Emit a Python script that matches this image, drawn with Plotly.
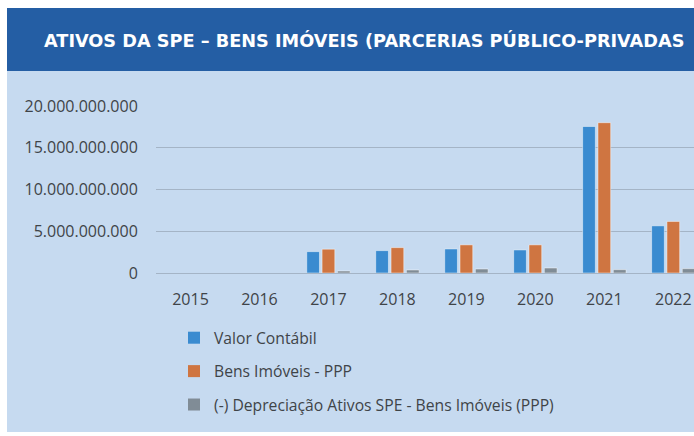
import plotly.graph_objects as go

W, H = 694, 436

years = ["2015", "2016", "2017", "2018", "2019", "2020", "2021", "2022"]
valor_contabil = [0, 0, 2.56e9, 2.68e9, 2.88e9, 2.76e9, 17.55e9, 5.65e9]
bens_imoveis = [0, 0, 2.85e9, 3.04e9, 3.37e9, 3.37e9, 18.0e9, 6.17e9]
depreciacao = [0, 0, 0.24e9, 0.36e9, 0.48e9, 0.60e9, 0.40e9, 0.52e9]

series_names = ["Valor Contábil", "Bens Imóveis - PPP",
                "(-) Depreciação Ativos SPE - Bens Imóveis (PPP)"]
colors = ["#3A8BD0", "#CF7541", "#808C96"]
title_text = "ATIVOS DA SPE – BENS IMÓVEIS (PARCERIAS PÚBLICO-PRIVADAS"

tick_vals = [0, 5e9, 10e9, 15e9, 20e9]
tick_text = ["0", "5.000.000.000", "10.000.000.000", "15.000.000.000", "20.000.000.000"]

FONT = "Open Sans"
TXT = "#3F4448"

fig = go.Figure()
for i, (name, vals) in enumerate(zip(series_names, [valor_contabil, bens_imoveis, depreciacao])):
    fig.add_trace(go.Bar(
        x=years, y=vals, name=name, legendgroup=f"g{i}",
        marker=dict(color=colors[i],
                    line=dict(color="rgba(255,255,255,0.45)",
                              width=[1 if v > 0 else 0 for v in vals])),
    ))

fig.update_layout(
    width=W, height=H,
    margin=dict(l=0, r=0, t=0, b=0, autoexpand=False),
    paper_bgcolor="white",
    plot_bgcolor="rgba(0,0,0,0)",
    barmode="group", bargap=0.333, bargroupgap=0.17,
    font=dict(family=FONT, size=16, color=TXT),
    xaxis=dict(domain=[156 / W, 1], range=[-0.5, 7.3], showgrid=False, automargin=False,
               ticks="outside", ticklen=12, tickcolor="rgba(0,0,0,0)",
               tickfont=dict(size=16, color=TXT), showline=False, zeroline=False),
    yaxis=dict(domain=[(H - 273) / H, (H - 106) / H], range=[0, 20e9], automargin=False,
               tickvals=tick_vals, ticktext=tick_text,
               showgrid=True, gridcolor="#A4B4C6", gridwidth=1.3,
               zeroline=True, zerolinecolor="#A4B4C6", zerolinewidth=1.3,
               ticks="outside", ticklen=14, tickcolor="rgba(0,0,0,0)",
               tickfont=dict(size=16, color=TXT), showline=False),
    legend=dict(x=174 / W, y=(H - 321) / H, xanchor="left", yanchor="top",
                orientation="v", bgcolor="rgba(0,0,0,0)", tracegroupgap=10,
                font=dict(size=15.7, color=TXT), itemwidth=30),
    showlegend=True,
    shapes=[
        dict(type="rect", xref="paper", yref="paper", x0=7 / W, x1=1, y0=(H - 432) / H, y1=(H - 8) / H,
             fillcolor="#C6DAF0", line=dict(width=0), layer="below"),
        dict(type="rect", xref="paper", yref="paper", x0=7 / W, x1=1, y0=(H - 71) / H, y1=(H - 8) / H,
             fillcolor="#245EA4", line=dict(width=0), layer="below"),
    ],
    annotations=[
        dict(text="<b>" + title_text + "</b>", xref="paper", yref="paper",
             x=42 / W, y=(H - 40) / H, xanchor="left", yanchor="middle", showarrow=False,
             font=dict(family="DejaVu Sans", size=17.7, color="white")),
    ],
)

fig.write_html("out.html", config={"displayModeBar": False},
               post_script="document.body.style.margin='0';document.body.style.overflow='hidden';")
